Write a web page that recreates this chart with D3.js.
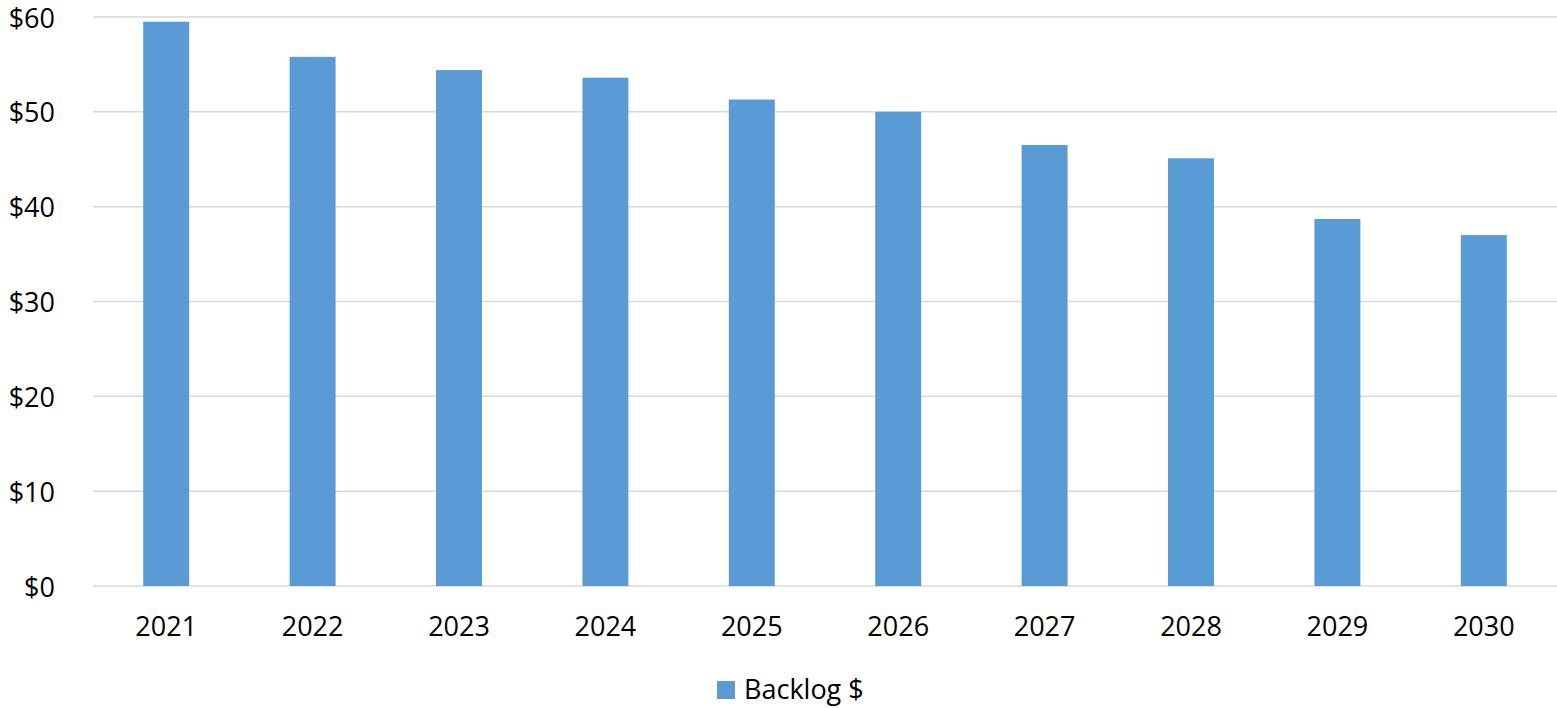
<!DOCTYPE html>
<html>
<head>
<meta charset="utf-8">
<script src="https://cdn.jsdelivr.net/npm/d3@7"></script>
<style>
  html, body { margin: 0; padding: 0; background: #fff; }
  svg { display: block; font-family: "Open Sans", "Noto Sans", sans-serif; }
</style>
</head>
<body>
<svg id="chart" width="1557" height="708"></svg>
<script>
// Backlog by year, in dollars
const years = ["2021", "2022", "2023", "2024", "2025", "2026", "2027", "2028", "2029", "2030"];
const backlog = [59.5, 55.8, 54.4, 53.6, 51.3, 50.0, 46.5, 45.1, 38.7, 37.0];
const yTicks = [0, 10, 20, 30, 40, 50, 60];
const seriesName = "Backlog $";

const svg = d3.select("#chart");
const margin = { left: 93, right: 0, top: 17, bottom: 122 };
const W = 1557, H = 708;
const barColor = "#5b9bd5";
const fontSize = 27;

const x = d3.scaleBand()
  .domain(years)
  .range([margin.left, W - margin.right])
  .paddingInner(0.686)
  .paddingOuter(0.343);

const y = d3.scaleLinear()
  .domain([0, 60])
  .range([H - margin.bottom, margin.top]);

// horizontal gridlines
svg.append("g")
  .selectAll("line")
  .data(yTicks)
  .join("line")
  .attr("x1", margin.left)
  .attr("x2", W - margin.right)
  .attr("y1", d => y(d))
  .attr("y2", d => y(d))
  .attr("stroke", "#d9d9d9")
  .attr("stroke-width", 1.5);

// bars
svg.append("g")
  .selectAll("rect")
  .data(years.map((yr, i) => ({ yr, v: backlog[i] })))
  .join("rect")
  .attr("x", d => x(d.yr))
  .attr("width", x.bandwidth())
  .attr("y", d => y(d.v))
  .attr("height", d => y(0) - y(d.v))
  .attr("fill", barColor);

// y-axis labels
const yAxis = svg.append("g")
  .attr("transform", `translate(${margin.left - 38},0)`)
  .call(d3.axisLeft(y).tickValues(yTicks).tickFormat(d => "$" + d).tickSize(0).tickPadding(0));
yAxis.select(".domain").remove();
yAxis.selectAll("text")
  .attr("font-size", fontSize)
  .attr("dy", "0.37em")
  .attr("fill", "#000")
  .style("font-family", "'Open Sans', sans-serif");

// x-axis labels
const xAxis = svg.append("g")
  .attr("transform", `translate(0,${y(0)})`)
  .call(d3.axisBottom(x).tickSize(0).tickPadding(31));
xAxis.select(".domain").remove();
xAxis.selectAll("text")
  .attr("font-size", fontSize)
  .attr("fill", "#000")
  .style("font-family", "'Open Sans', sans-serif");

// legend
const legend = svg.append("g").attr("transform", "translate(717,681)");
legend.append("rect")
  .attr("width", 18).attr("height", 18)
  .attr("fill", barColor);
legend.append("text")
  .attr("x", 27).attr("y", 18)
  .attr("font-size", fontSize)
  .attr("fill", "#000")
  .text(seriesName);
</script>
</body>
</html>
